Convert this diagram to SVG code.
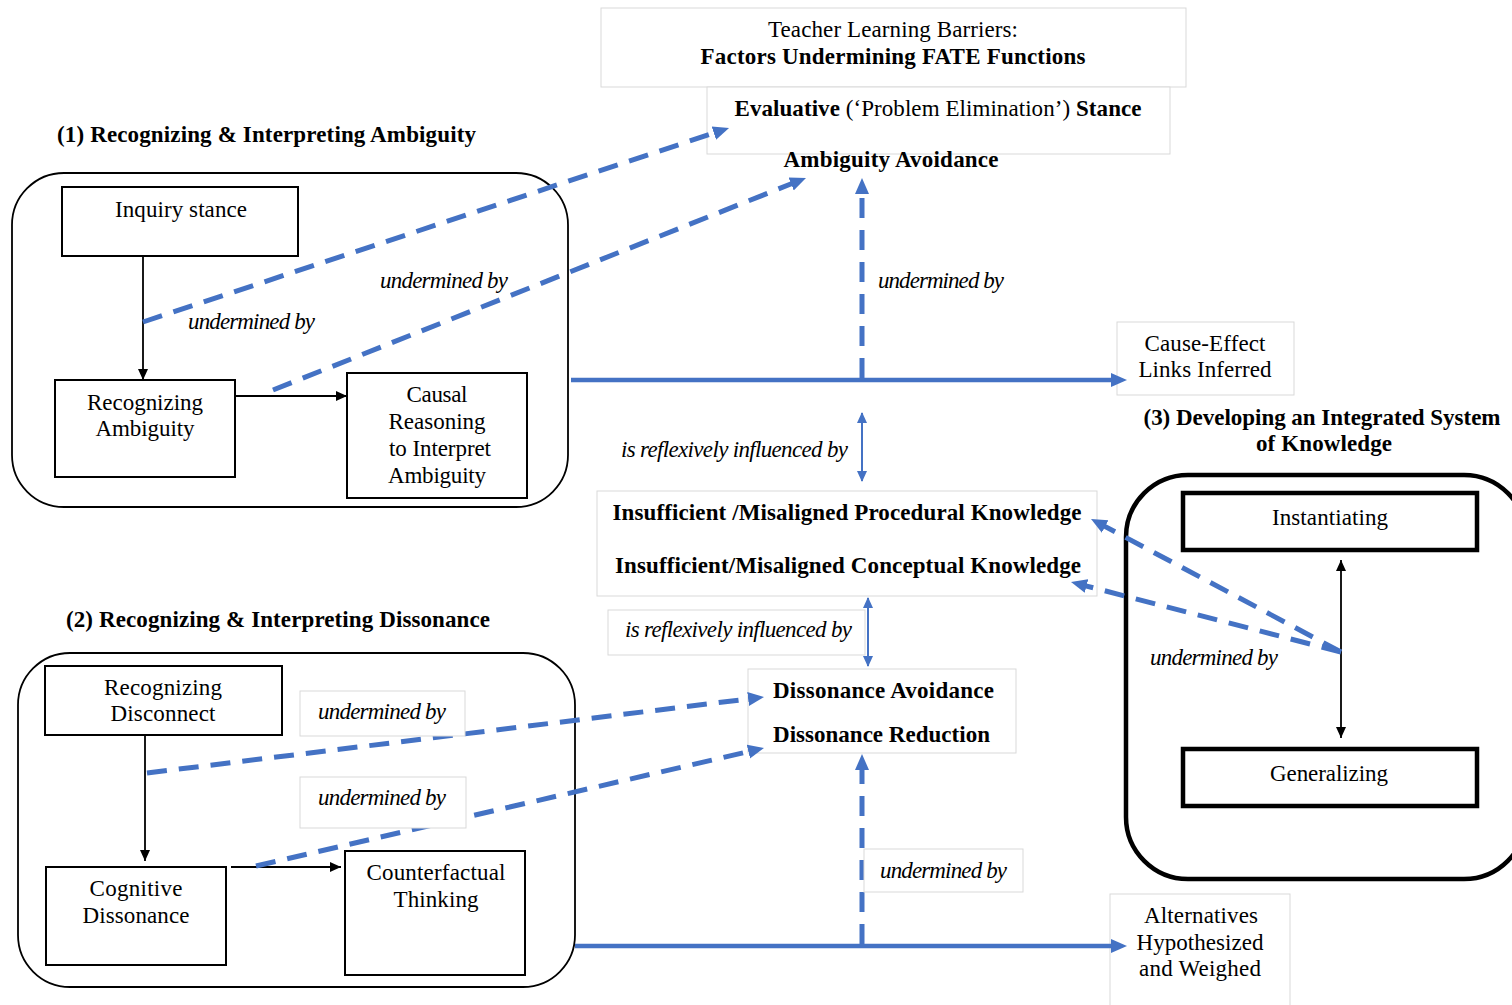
<svg xmlns="http://www.w3.org/2000/svg" width="1512" height="1005" viewBox="0 0 1512 1005">
  <style>
    .t { font-family: "Liberation Serif", "Times New Roman", Times, serif; font-size: 23px; fill: #000; }
    .b { font-weight: bold; }
    .i { font-style: italic; }
    .m { text-anchor: middle; }
    .faint { fill: #fff; stroke: #d9d9d9; stroke-width: 1; }
    .box { fill: #fff; stroke: #000; stroke-width: 2; }
    .thick { fill: #fff; stroke: #000; stroke-width: 4.5; }
    .group { fill: none; stroke: #000; stroke-width: 1.8; }
    .groupThick { fill: none; stroke: #000; stroke-width: 4.5; }
    .dash { fill: none; stroke: #4472C4; stroke-width: 5; stroke-dasharray: 20 12; }
    .solid { fill: none; stroke: #4472C4; stroke-width: 4.5; }
    .thin { fill: none; stroke: #4472C4; stroke-width: 2; }
    .blk { fill: none; stroke: #000; stroke-width: 1.8; }
  </style>
  <defs>
    <marker id="blueHead" markerUnits="userSpaceOnUse" markerWidth="18" markerHeight="16" viewBox="0 0 18 16" refX="3" refY="8" orient="auto">
      <path d="M0,1 L16,8 L0,15 z" fill="#4472C4"/>
    </marker>
    <marker id="blueSmall" markerUnits="userSpaceOnUse" markerWidth="12" markerHeight="12" viewBox="0 0 12 12" refX="10" refY="6" orient="auto-start-reverse">
      <path d="M0,1 L11,6 L0,11 z" fill="#4472C4"/>
    </marker>
    <marker id="blackHead" markerUnits="userSpaceOnUse" markerWidth="12" markerHeight="12" viewBox="0 0 12 12" refX="11" refY="6" orient="auto-start-reverse">
      <path d="M0,1 L11,6 L0,11 z" fill="#000"/>
    </marker>
  </defs>

  <rect width="1512" height="1005" fill="#fff"/>

  <!-- Header: barriers title and stances -->
  <g id="title">
    <rect class="faint" x="601" y="8" width="585" height="79"/>
    <text class="t m" x="893" y="37" textLength="250">Teacher Learning Barriers:</text>
    <text class="t b m" x="893" y="64" textLength="385">Factors Undermining FATE Functions</text>
  </g>
  <g id="evaluative-stance">
    <rect class="faint" x="707" y="87" width="463" height="67"/>
    <text class="t m" x="938" y="116" textLength="407"><tspan class="b">Evaluative</tspan> (‘Problem Elimination’) <tspan class="b">Stance</tspan></text>
  </g>
  <g id="ambiguity-avoidance">
    <text class="t b m" x="891" y="167" textLength="215">Ambiguity Avoidance</text>
  </g>

  <!-- (1) Recognizing & Interpreting Ambiguity -->
  <g id="group-ambiguity">
    <text class="t b" x="57" y="142" textLength="419">(1) Recognizing &amp; Interpreting Ambiguity</text>
    <rect class="group" x="12" y="173" width="556" height="334" rx="52"/>
  </g>
  <g id="inquiry-stance">
    <rect class="box" x="62" y="187" width="236" height="69"/>
    <text class="t m" x="181" y="217" textLength="132">Inquiry stance</text>
  </g>
  <g id="recognizing-ambiguity">
    <rect class="box" x="55" y="380" width="180" height="97"/>
    <text class="t m" x="145" y="410" textLength="116">Recognizing</text>
    <text class="t m" x="145" y="436" textLength="99">Ambiguity</text>
  </g>
  <g id="causal-reasoning">
    <rect class="box" x="347" y="373" width="180" height="125"/>
    <text class="t m" x="437" y="402" textLength="61">Causal</text>
    <text class="t m" x="437" y="429" textLength="97">Reasoning</text>
    <text class="t m" x="440" y="456" textLength="102">to Interpret</text>
    <text class="t m" x="437" y="483" textLength="98">Ambiguity</text>
  </g>
  <g id="cause-effect">
    <rect class="faint" x="1117" y="322" width="177" height="73"/>
    <text class="t m" x="1205" y="351" textLength="121">Cause-Effect</text>
    <text class="t m" x="1205" y="377" textLength="133">Links Inferred</text>
  </g>

  <!-- Knowledge factors -->
  <g id="knowledge">
    <rect class="faint" x="597" y="491" width="500" height="105"/>
    <text class="t b m" x="847" y="520" textLength="469">Insufficient /Misaligned Procedural Knowledge</text>
    <text class="t b m" x="848" y="573" textLength="466">Insufficient/Misaligned Conceptual Knowledge</text>
  </g>

  <!-- (3) Developing an Integrated System of Knowledge -->
  <g id="group-integrated">
    <text class="t b m" x="1322" y="425" textLength="357">(3) Developing an Integrated System</text>
    <text class="t b m" x="1324" y="451" textLength="136">of Knowledge</text>
    <rect class="groupThick" x="1126" y="475" width="400" height="404" rx="62"/>
  </g>
  <g id="instantiating">
    <rect class="thick" x="1183" y="493" width="294" height="57"/>
    <text class="t m" x="1330" y="525" textLength="116">Instantiating</text>
  </g>
  <g id="generalizing">
    <rect class="thick" x="1183" y="749" width="294" height="57"/>
    <text class="t m" x="1329" y="781" textLength="118">Generalizing</text>
  </g>

  <!-- (2) Recognizing & Interpreting Dissonance -->
  <g id="group-dissonance">
    <text class="t b" x="66" y="627" textLength="424">(2) Recognizing &amp; Interpreting Dissonance</text>
    <rect class="group" x="18" y="653" width="557" height="334" rx="52"/>
  </g>
  <g id="recognizing-disconnect">
    <rect class="box" x="45" y="666" width="237" height="69"/>
    <text class="t m" x="163" y="695" textLength="118">Recognizing</text>
    <text class="t m" x="163" y="721" textLength="105">Disconnect</text>
  </g>
  <g id="cognitive-dissonance">
    <rect class="box" x="46" y="867" width="180" height="98"/>
    <text class="t m" x="136" y="896" textLength="93">Cognitive</text>
    <text class="t m" x="136" y="923" textLength="107">Dissonance</text>
  </g>
  <g id="counterfactual-thinking">
    <rect class="box" x="345" y="851" width="180" height="124"/>
    <text class="t m" x="436" y="880" textLength="139">Counterfactual</text>
    <text class="t m" x="436" y="907" textLength="85">Thinking</text>
  </g>
  <g id="dissonance-factors">
    <rect class="faint" x="748" y="669" width="268" height="84"/>
    <text class="t b" x="773" y="698" textLength="221">Dissonance Avoidance</text>
    <text class="t b" x="773" y="742" textLength="217">Dissonance Reduction</text>
  </g>
  <g id="alternatives">
    <rect class="faint" x="1110" y="894" width="180" height="120"/>
    <text class="t m" x="1201" y="923" textLength="114">Alternatives</text>
    <text class="t m" x="1200" y="950" textLength="127">Hypothesized</text>
    <text class="t m" x="1200" y="976" textLength="122">and Weighed</text>
  </g>

  <!-- Connectors -->
  <g id="connectors">
    <!-- black flow arrows inside the groups -->
    <line class="blk" x1="143" y1="256" x2="143" y2="380" marker-end="url(#blackHead)"/>
    <line class="blk" x1="235" y1="396" x2="347" y2="396" marker-end="url(#blackHead)"/>
    <line class="blk" x1="145" y1="735" x2="145" y2="861" marker-end="url(#blackHead)"/>
    <line class="blk" x1="231" y1="867" x2="341" y2="867" marker-end="url(#blackHead)"/>
    <line class="blk" x1="1341" y1="560" x2="1341" y2="738" marker-start="url(#blackHead)" marker-end="url(#blackHead)"/>

    <!-- solid outcome arrows -->
    <line class="solid" x1="571" y1="380" x2="1114" y2="380" marker-end="url(#blueHead)"/>
    <line class="solid" x1="575" y1="946" x2="1114" y2="946" marker-end="url(#blueHead)"/>

    <!-- reflexive influence -->
    <line class="thin" x1="862" y1="413" x2="862" y2="481" marker-start="url(#blueSmall)" marker-end="url(#blueSmall)"/>
    <line class="thin" x1="868" y1="598" x2="868" y2="666" marker-start="url(#blueSmall)" marker-end="url(#blueSmall)"/>

    <!-- "undermined by" links -->
    <line class="dash" x1="143" y1="322" x2="716.7" y2="132.1" marker-end="url(#blueHead)"/>
    <line class="dash" x1="273" y1="390" x2="793.9" y2="182.8" marker-end="url(#blueHead)"/>
    <line class="dash" x1="862" y1="378" x2="862" y2="191" marker-end="url(#blueHead)"/>
    <line class="dash" x1="1341" y1="652" x2="1102.5" y2="525.1" marker-end="url(#blueHead)"/>
    <line class="dash" x1="1341" y1="652" x2="1083.6" y2="585.3" marker-end="url(#blueHead)"/>
    <line class="dash" x1="147" y1="773" x2="751.1" y2="698.6" marker-end="url(#blueHead)"/>
    <line class="dash" x1="256" y1="866" x2="751.3" y2="750.9" marker-end="url(#blueHead)"/>
    <line class="dash" x1="862" y1="944" x2="862" y2="767" marker-end="url(#blueHead)"/>
  </g>

  <!-- Connector labels -->
  <g id="labels">
    <text class="t i" x="188" y="329" textLength="127">undermined by</text>
    <text class="t i" x="380" y="288" textLength="128">undermined by</text>
    <text class="t i" x="878" y="288" textLength="126">undermined by</text>
    <text class="t i" x="621" y="457" textLength="227">is reflexively influenced by</text>
    <text class="t i" x="1150" y="665" textLength="128">undermined by</text>

    <rect class="faint" x="608" y="610" width="257" height="45"/>
    <text class="t i" x="625" y="637" textLength="227">is reflexively influenced by</text>

    <rect class="faint" x="300" y="691" width="165" height="45"/>
    <text class="t i" x="318" y="719" textLength="128">undermined by</text>
    <rect class="faint" x="300" y="777" width="166" height="51"/>
    <text class="t i" x="318" y="805" textLength="128">undermined by</text>

    <rect class="faint" x="864" y="849" width="159" height="43"/>
    <text class="t i" x="880" y="878" textLength="127">undermined by</text>
  </g>
</svg>
